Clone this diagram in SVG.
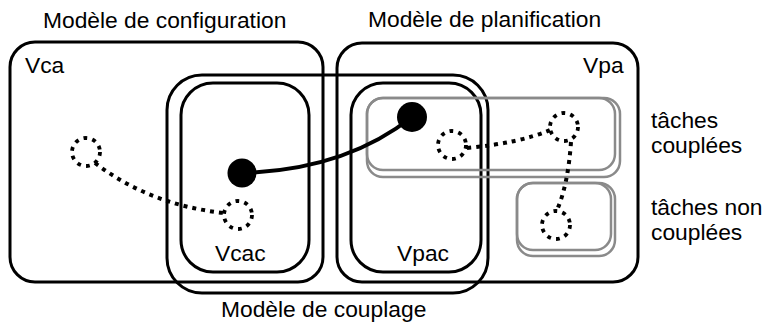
<svg xmlns="http://www.w3.org/2000/svg" width="766" height="327" viewBox="0 0 766 327">
  <style>
    .lbl { font-family: "Liberation Sans", Arial, sans-serif; font-size: 22.8px; fill: #000; }
    .box { fill: none; stroke: #000; stroke-width: 3; }
    .task { fill: none; stroke: #8a8a8a; stroke-width: 2.5; }
    .var { fill: none; stroke: #000; stroke-width: 3.8; stroke-dasharray: 3.8 5.2; }
    .dep { fill: none; stroke: #000; stroke-width: 4; stroke-dasharray: 4 5; }
    .link { fill: none; stroke: #000; stroke-width: 4; }
    .shared { fill: #000; }
  </style>
  <rect width="766" height="327" fill="#fff"/>

  <!-- model titles -->
  <text class="lbl" x="43" y="28">Modèle de configuration</text>
  <text class="lbl" x="368" y="27">Modèle de planification</text>
  <text class="lbl" x="221" y="317">Modèle de couplage</text>

  <!-- configuration model -->
  <g id="vca">
    <rect class="box" x="10" y="42" width="313" height="240" rx="25"/>
    <text class="lbl" x="25" y="73">Vca</text>
  </g>

  <!-- planning model -->
  <g id="vpa">
    <rect class="box" x="337" y="43" width="301" height="239" rx="25"/>
    <text class="lbl" x="583" y="73">Vpa</text>
  </g>

  <!-- coupling model -->
  <g id="coupling">
    <rect class="box" x="167" y="75" width="321" height="218" rx="35"/>
  </g>
  <g id="vcac">
    <rect class="box" x="181" y="83" width="128" height="189" rx="32"/>
    <text class="lbl" x="215" y="261">Vcac</text>
  </g>
  <g id="vpac">
    <rect class="box" x="351" y="83" width="130" height="189" rx="32"/>
    <text class="lbl" x="397" y="261">Vpac</text>
  </g>

  <!-- task groups (each drawn as a stacked pair) -->
  <g id="coupled-tasks">
    <rect class="task" x="367" y="98" width="253" height="79" rx="16"/>
    <rect class="task" x="367" y="98" width="248" height="72" rx="16"/>
    <text class="lbl" x="651" y="128">tâches</text>
    <text class="lbl" x="651" y="153">couplées</text>
  </g>
  <g id="uncoupled-tasks">
    <rect class="task" x="517" y="183" width="98" height="73" rx="16"/>
    <rect class="task" x="517" y="183" width="94" height="67" rx="16"/>
    <text class="lbl" x="651" y="215">tâches non</text>
    <text class="lbl" x="651" y="240">couplées</text>
  </g>

  <!-- connectors -->
  <g id="connectors">
    <path class="link" d="M242 173 Q345 170 412 117"/>
    <path class="dep" d="M95 163 Q150 205 224 213"/>
    <path class="dep" d="M467 148 Q520 143 550 130"/>
    <path class="dep" d="M571 142 Q568 185 557 210"/>
  </g>

  <!-- variables -->
  <g id="v1"><circle class="var" cx="86" cy="152" r="14"/></g>
  <g id="v2"><circle class="var" cx="238" cy="215" r="14"/></g>
  <g id="v3"><circle class="var" cx="452" cy="145" r="14"/></g>
  <g id="v4"><circle class="var" cx="564" cy="127" r="14"/></g>
  <g id="v5"><circle class="var" cx="556" cy="225" r="14"/></g>
  <g id="c1"><circle class="shared" cx="242" cy="173" r="14.5"/></g>
  <g id="c2"><circle class="shared" cx="412" cy="117" r="15"/></g>
</svg>
